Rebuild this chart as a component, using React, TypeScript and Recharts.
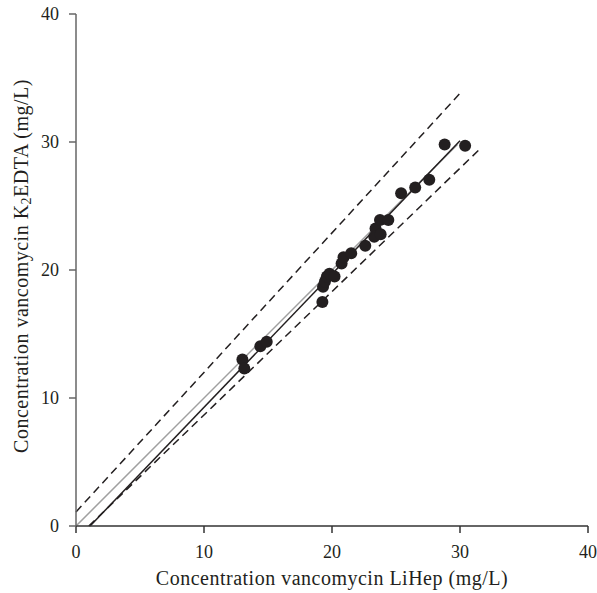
import React from 'react';
import { ScatterChart, Scatter, XAxis, YAxis, ReferenceLine, Label } from 'recharts';

const lihep = [13.0, 13.15, 14.4, 14.9, 19.25, 19.3, 19.45, 19.6, 19.8, 20.2, 20.75, 20.9, 21.5, 22.6, 23.4, 23.3, 23.8, 23.75, 24.4, 25.4, 26.5, 27.6, 28.8, 30.4];
const k2edta = [13.0, 12.3, 14.05, 14.4, 17.5, 18.7, 19.1, 19.5, 19.7, 19.5, 20.5, 21.0, 21.3, 21.9, 23.25, 22.6, 22.8, 23.9, 23.9, 26.0, 26.45, 27.05, 29.8, 29.7];
const axisTicks = [0, 10, 20, 30, 40];

const identityLine = [{ x: 0, y: 0 }, { x: 29.8, y: 29.8 }];
const regressionLine = [{ x: 1.1, y: 0 }, { x: 30.0, y: 30.1 }];
const upperLimit = [{ x: 0, y: 1.1 }, { x: 30.0, y: 33.8 }];
const lowerLimit = [{ x: 1.0, y: 0 }, { x: 31.5, y: 29.4 }];

const points = lihep.map((x, i) => ({ x, y: k2edta[i] }));

const FONT = '"Liberation Serif", "Times New Roman", serif';
const INK = '#231f20';

const Dot = (props: any) => <circle cx={props.cx} cy={props.cy} r={6} fill={INK} />;

const YLabel = () => (
  <text
    x={21}
    y={266}
    transform="rotate(-90, 21, 266)"
    textAnchor="middle"
    dominantBaseline="central"
    fontFamily={FONT}
    fontSize={20}
    letterSpacing={0.5}
    fill={INK}
  >
    Concentration vancomycin K
    <tspan fontSize={14} dy={5}>2</tspan>
    <tspan dy={-5}>EDTA (mg/L)</tspan>
  </text>
);

export default function App() {
  return (
    <div style={{ position: 'absolute', left: 0, top: 0, width: 597, height: 593 }}>
      <ScatterChart width={597} height={593} margin={{ top: 14, right: 9, bottom: 7, left: 16 }}>
        <XAxis
          type="number"
          dataKey="x"
          domain={[0, 40]}
          ticks={axisTicks}
          interval={0}
          height={60}
          tickSize={7}
          tickMargin={12}
          axisLine={{ stroke: '#333', strokeWidth: 1.5 }}
          tickLine={{ stroke: '#333', strokeWidth: 1.5 }}
          tick={{ fill: INK, fontSize: 18, fontFamily: FONT }}
        >
          <Label
            value="Concentration vancomycin LiHep (mg/L)"
            position="insideBottom"
            offset={1}
            style={{ fill: INK, fontSize: 20, fontFamily: FONT, letterSpacing: 0.5 }}
          />
        </XAxis>
        <YAxis
          type="number"
          dataKey="y"
          domain={[0, 40]}
          ticks={axisTicks}
          interval={0}
          width={60}
          tickSize={7}
          tickMargin={10}
          axisLine={{ stroke: '#666', strokeWidth: 1.5 }}
          tickLine={{ stroke: '#666', strokeWidth: 1.5 }}
          tick={{ fill: INK, fontSize: 18, fontFamily: FONT }}
        >
          <Label content={<YLabel />} />
        </YAxis>
        <ReferenceLine segment={upperLimit} stroke={INK} strokeWidth={1.5} strokeDasharray="8 5" />
        <ReferenceLine segment={lowerLimit} stroke={INK} strokeWidth={1.5} strokeDasharray="8 5" />
        <ReferenceLine segment={identityLine} stroke="#a0a0a0" strokeWidth={1.5} />
        <ReferenceLine segment={regressionLine} stroke={INK} strokeWidth={1.5} />
        <Scatter data={points} shape={Dot} isAnimationActive={false} />
      </ScatterChart>
    </div>
  );
}
